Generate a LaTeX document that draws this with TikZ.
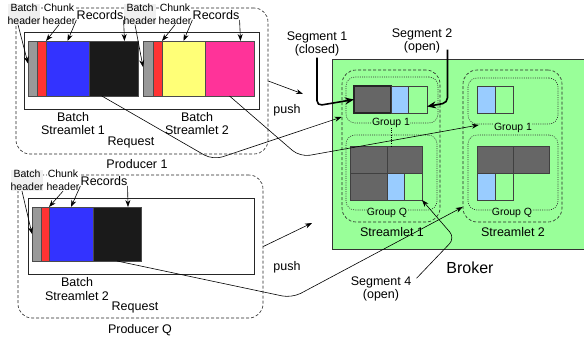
\documentclass[tikz,border=0pt]{standalone}
\usepackage{fontspec}
\setmainfont{Liberation Sans}
\usetikzlibrary{arrows.meta}
\usetikzlibrary{positioning}
\usetikzlibrary{chains}

\definecolor{hdrgray}{HTML}{999999}
\definecolor{chunkred}{HTML}{FF3333}
\definecolor{recblue}{HTML}{3333FF}
\definecolor{recblack}{HTML}{1A1A1A}
\definecolor{recyellow}{HTML}{FFFF77}
\definecolor{recpink}{HTML}{FF3399}
\definecolor{brokergreen}{HTML}{99FF99}
\definecolor{segdark}{HTML}{666666}
\definecolor{segblue}{HTML}{99CCFF}

\begin{document}
\begin{tikzpicture}[x=1pt,y=-1pt]
  \tikzstyle{every path}=[line width=.6pt]
  \tikzstyle{every node}=[font=\fontsize{12.5}{13.5}\selectfont,align=center,inner sep=1pt]

  \edef\barheight{55pt}
  \edef\segheight{27pt}
  \tikzstyle{cell}=[draw=black!70,inner sep=0pt,outer sep=0pt,minimum height=\barheight]
  \tikzstyle{segcell}=[draw=black!75,inner sep=0pt,outer sep=0pt,minimum height=\segheight]
  \tikzstyle{small}=[font=\fontsize{10.5}{13}\selectfont]
  \tikzstyle{hdrlabel}=[small,fill=gray!12,inner sep=0pt]
  \tikzstyle{note}=[small,fill=white,inner sep=0pt]
  \tikzstyle{recnote}=[fill=white,inner sep=0pt]
  \tikzstyle{reqbox}=[draw=black!85,line width=.8pt,inner sep=0pt]
  \tikzstyle{dashbox}=[draw=black!85,rounded corners=14pt,dash pattern=on 3pt off 2pt,inner sep=0pt]
  \tikzstyle{dotbox}=[draw=black!80,rounded corners=9pt,dash pattern=on 1pt off 1.2pt,inner sep=0pt]
  \tikzstyle{tip}=[-{Stealth[length=7pt,width=5pt]}]
  \tikzstyle{bigtip}=[line width=1.6pt,-{Stealth[length=9pt,width=7pt]},rounded corners=5pt]

  \useasboundingbox (0,0) rectangle (584,343);

  % producers
  \node [dashbox,minimum width=252pt,minimum height=146pt] (prod1) at (142,81) {};
  \node [dashbox,minimum width=245pt,minimum height=143pt] (prodq) at (140.5,246.5) {};
  \node [reqbox,minimum width=235pt,minimum height=77pt] (req1) at (141.5,70.5) {};
  \node [reqbox,minimum width=226pt,minimum height=76pt] (reqq) at (141,236) {};

  \begin{scope}[start chain=b1 going right,node distance=0pt]
    \node [on chain=b1,cell,fill=hdrgray,minimum width=9pt,anchor=west] (gr1) at (28,68.5) {};
    \node [on chain=b1,cell,fill=chunkred,minimum width=9pt] (r1) {};
    \node [on chain=b1,cell,fill=recblue,minimum width=43pt] (bl1) {};
    \node [on chain=b1,cell,fill=recblack,minimum width=49pt] (k1) {};
  \end{scope}
  \begin{scope}[start chain=b2 going right,node distance=0pt]
    \node [on chain=b2,cell,fill=hdrgray,minimum width=10pt,anchor=west] (gr2) at (143,68.5) {};
    \node [on chain=b2,cell,fill=chunkred,minimum width=9pt] (r2) {};
    \node [on chain=b2,cell,fill=recyellow,minimum width=43pt] (y2) {};
    \node [on chain=b2,cell,fill=recpink,minimum width=49pt] (m2) {};
  \end{scope}
  \begin{scope}[start chain=bq going right,node distance=0pt]
    \node [on chain=bq,cell,fill=hdrgray,minimum width=9pt,minimum height=54pt,anchor=west] (grq) at (32,234) {};
    \node [on chain=bq,cell,fill=chunkred,minimum width=8pt,minimum height=54pt] (rq) {};
    \node [on chain=bq,cell,fill=recblue,minimum width=44pt,minimum height=54pt] (blq) {};
    \node [on chain=bq,cell,fill=recblack,minimum width=48pt,minimum height=54pt] (kq) {};
  \end{scope}

  \node (batch1) at (73,123.5) {Batch\\Streamlet 1};
  \node (batch2) at (197,123.5) {Batch\\Streamlet 2};
  \node (batchq) at (77,289) {Batch\\Streamlet 2};
  \node (reqlab1) at (131,142) {Request};
  \node (reqlabq) at (135,307) {Request};
  \node (prodlab1) at (137,164) {Producer 1};
  \node (prodlabq) at (140,330) {Producer Q};

  \node [hdrlabel] (bh1) at (24,14) {Batch\\header};
  \node [note] (ch1) at (59,14) {Chunk\\header};
  \node [recnote] (rec1) at (100,15) {Records};
  \node [hdrlabel] (bh2) at (140,14) {Batch\\header};
  \node [note] (ch2) at (175,14) {Chunk\\header};
  \node [recnote] (rec2) at (216,15) {Records};
  \node [hdrlabel] (bhq) at (27,180.5) {Batch\\header};
  \node [note] (chq) at (63,180.5) {Chunk\\header};
  \node [recnote] (recq) at (104,181) {Records};

  \draw [tip] ([xshift=-6pt]bh1.south) -- ([yshift=5pt]gr1.west);
  \draw [tip] (ch1.south) -- (r1.north east);
  \draw [tip] (rec1.south west) -- (bl1.north);
  \draw [tip] (rec1.south east) -- ([xshift=11pt]k1.north);
  \draw [tip] ([xshift=-5pt]bh2.south) -- ([yshift=1.5pt]gr2.west);
  \draw [tip] (ch2.south) -- (r2.north east);
  \draw [tip] (rec2.south west) -- (y2.north);
  \draw [tip] (rec2.south east) -- ([xshift=11pt]m2.north);
  \draw [tip] ([xshift=-5pt]bhq.south) -- (grq.west);
  \draw [tip] (chq.south) -- (rq.north east);
  \draw [tip] (recq.south west) -- (blq.north);
  \draw [tip] (recq.south east) -- ([xshift=11pt]kq.north);

  % broker
  \node [draw=black!80,fill=brokergreen,minimum width=253pt,minimum height=190pt,inner sep=0pt] (broker) at (458.5,154) {};
  \node [font=\fontsize{16}{18}\selectfont] (brokerlab) at (470,268) {Broker};

  \node [dashbox,minimum width=98pt,minimum height=152pt] (sl1) at (391,146) {};
  \node [dashbox,minimum width=99pt,minimum height=152pt] (sl2) at (512.5,146) {};
  \node [dotbox,minimum width=92pt,minimum height=46pt] (grp11) at (392,100) {};
  \node [dotbox,minimum width=90pt,minimum height=46pt] (grp21) at (513,101) {};
  \node [dotbox,minimum width=91pt,minimum height=75pt] (grpq1) at (391.5,172.5) {};
  \node [dotbox,minimum width=90pt,minimum height=75pt] (grpq2) at (513,172.5) {};

  \node [small,fill=brokergreen,inner sep=0pt] (g11lab) at (391,123) {Group 1};
  \node [small,fill=brokergreen,inner sep=0pt] (g21lab) at (513,128) {Group 1};
  \node [small,fill=brokergreen,inner sep=0pt] (gq1lab) at (387,213) {Group Q};
  \node [small,fill=brokergreen,inner sep=0pt] (gq2lab) at (512,213) {Group Q};
  \node (sl1lab) at (392,232) {Streamlet 1};
  \node (sl2lab) at (513,232) {Streamlet 2};

  \begin{scope}[start chain=s11 going right,node distance=0pt]
    \node [on chain=s11,segcell,fill=segdark,draw=black!85,line width=1.2pt,minimum width=37pt,anchor=west] (d11) at (354,99.5) {};
    \node [on chain=s11,segcell,fill=segblue,minimum width=17pt] (b11) {};
    \node [on chain=s11,segcell,fill=brokergreen,minimum width=19pt] (g11) {};
  \end{scope}
  \begin{scope}[start chain=s21 going right,node distance=0pt]
    \node [on chain=s21,segcell,fill=segblue,minimum width=18pt,anchor=west] (b21) at (477,99.5) {};
    \node [on chain=s21,segcell,fill=brokergreen,minimum width=18pt] (g21) {};
  \end{scope}
  \begin{scope}[start chain=q1a going right,node distance=0pt]
    \node [on chain=q1a,segcell,fill=segdark,minimum width=37pt,anchor=west] (dq11) at (350,159.5) {};
    \node [on chain=q1a,segcell,fill=segdark,minimum width=35pt] (dq12) {};
  \end{scope}
  \begin{scope}[start chain=q1b going right,node distance=0pt]
    \node [on chain=q1b,segcell,fill=segdark,minimum width=37pt,anchor=west] (dq13) at (350,186.5) {};
    \node [on chain=q1b,segcell,fill=segblue,minimum width=17pt] (bq1) {};
    \node [on chain=q1b,segcell,fill=brokergreen,minimum width=18pt] (gq1) {};
  \end{scope}
  \begin{scope}[start chain=q2a going right,node distance=0pt]
    \node [on chain=q2a,segcell,fill=segdark,minimum width=36pt,anchor=west] (dq21) at (477,159.5) {};
    \node [on chain=q2a,segcell,fill=segdark,minimum width=36pt] (dq22) {};
  \end{scope}
  \begin{scope}[start chain=q2b going right,node distance=0pt]
    \node [on chain=q2b,segcell,fill=segblue,minimum width=18pt,anchor=west] (bq2) at (477,186.5) {};
    \node [on chain=q2b,segcell,fill=brokergreen,minimum width=18pt] (gq2) {};
  \end{scope}

  \draw [dash pattern=on 1pt off 1.2pt] (g11lab.south) -- (g11lab.south |- dq11.north);

  % segment notes
  \node (seglab1) at (317,44) {Segment 1\\(closed)};
  \node (seglab2) at (422,41) {Segment 2\\(open)};
  \node (seglab4) at (381,289) {Segment 4\\(open)};
  \draw [bigtip] (seglab1.south) -- ++(0,48) -- (d11.west);
  \draw [bigtip] ([xshift=-6pt,yshift=5pt]seglab2.south east) -- ++(0,53) -- ([yshift=-7pt]g11.east);
  \draw [tip,rounded corners=8pt] ([xshift=4pt,yshift=-3pt]seglab4.north east) -- (455,238) -- (gq1.south east);

  % push
  \coordinate (push1end) at (303,94);
  \coordinate (pushqend) at (312,223);
  \draw [tip] (prod1.east) -- (push1end);
  \draw [tip] (prodq.east) -- (pushqend);
  \node (push1) at (287,110) {push};
  \node (pushq) at (287,267) {push};

  % batches to streamlets
  \draw [tip,rounded corners=10pt] (k1.247) -- (213,160) -- ([yshift=29pt]sl1.west);
  \draw [tip,rounded corners=10pt] (m2.south) -- (300,157) -- ([xshift=-15pt,yshift=3pt]g21lab.west);
  \draw [tip,rounded corners=10pt] (kq.south) -- (292,298) -- ([yshift=-61pt]sl2.west);
\end{tikzpicture}
\end{document}
